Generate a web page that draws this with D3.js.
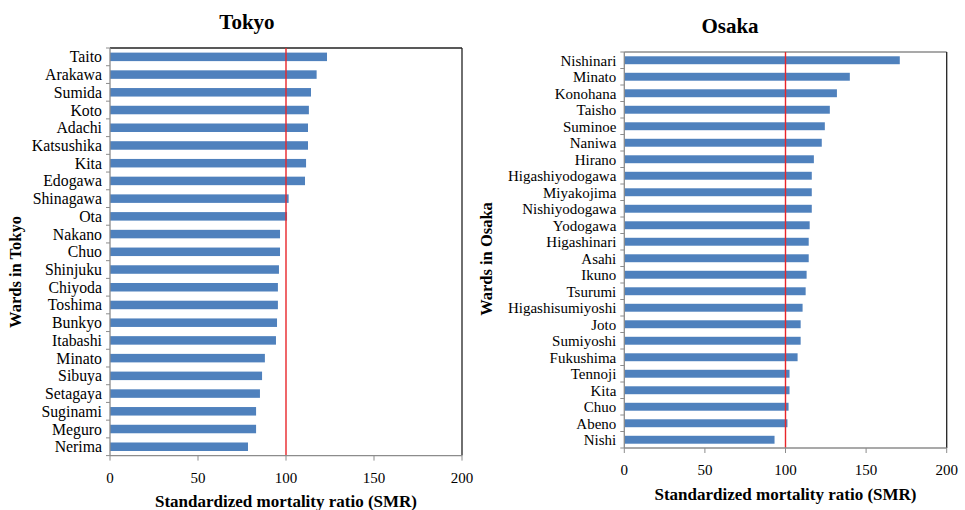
<!DOCTYPE html>
<html>
<head>
<meta charset="utf-8">
<script src="https://cdn.jsdelivr.net/npm/d3@7"></script>
<style>
	body { margin: 0; background: #fff; }
	svg text { font-family: "Liberation Serif", "Times New Roman", serif; fill: #000; }
</style>
</head>
<body>
<script>
const tokyoWards = ["Taito", "Arakawa", "Sumida", "Koto", "Adachi", "Katsushika", "Kita", "Edogawa", "Shinagawa", "Ota", "Nakano", "Chuo", "Shinjuku", "Chiyoda", "Toshima", "Bunkyo", "Itabashi", "Minato", "Sibuya", "Setagaya", "Suginami", "Meguro", "Nerima"];
const tokyoSMR = [123.3, 117.4, 114.2, 113, 112.5, 112.5, 111.4, 110.8, 101.5, 100.6, 96.6, 96.6, 96, 95.4, 95.4, 94.9, 94.3, 88, 86.4, 85.2, 83, 83, 78.4];

const osakaWards = ["Nishinari", "Minato", "Konohana", "Taisho", "Suminoe", "Naniwa", "Hirano", "Higashiyodogawa", "Miyakojima", "Nishiyodogawa", "Yodogawa", "Higashinari", "Asahi", "Ikuno", "Tsurumi", "Higashisumiyoshi", "Joto", "Sumiyoshi", "Fukushima", "Tennoji", "Kita", "Chuo", "Abeno", "Nishi"];
const osakaSMR = [170.9, 139.9, 131.9, 127.5, 124.4, 122.5, 117.6, 116.3, 116.3, 116.3, 115, 114.4, 114.4, 113.1, 112.5, 110.6, 109.4, 109.4, 107.5, 102.5, 102.5, 101.9, 101.2, 93.2];

const xTicks = [0, 50, 100, 150, 200];
const refLine = 100;

const svg = d3.select("body").append("svg")
	.attr("width", 965)
	.attr("height", 510);

function panel(o) {
	let x = d3.scaleLinear().domain([0, 200]).range([o.left, o.right]);
	let y = d3.scaleBand().domain(o.wards).range([o.top, o.bottom]).paddingInner(0.52).paddingOuter(0.26);
	let g = svg.append("g");

	g.selectAll("rect.bar")
		.data(o.values)
		.enter().append("rect")
		.attr("class", "bar")
		.attr("x", x(0))
		.attr("y", (d, i) => y(o.wards[i]))
		.attr("width", d => x(d) - x(0))
		.attr("height", y.bandwidth())
		.attr("fill", "#4F81BD");

	// top and right border
	g.append("line")
		.attr("x1", o.left).attr("x2", o.right)
		.attr("y1", o.top).attr("y2", o.top)
		.attr("stroke", o.topColor).attr("stroke-width", 1.3);
	g.append("line")
		.attr("x1", o.right).attr("x2", o.right)
		.attr("y1", o.top).attr("y2", o.bottom)
		.attr("stroke", "#222").attr("stroke-width", 1.3);

	// reference line
	g.append("line")
		.attr("x1", x(refLine)).attr("x2", x(refLine))
		.attr("y1", o.top).attr("y2", o.bottom)
		.attr("stroke", "#e8262a").attr("stroke-width", 1.4);

	// left axis, ticks between categories
	let step = (o.bottom - o.top) / o.wards.length;
	g.append("line")
		.attr("x1", o.left).attr("x2", o.left)
		.attr("y1", o.top).attr("y2", o.bottom)
		.attr("stroke", "#8c8c8c").attr("stroke-width", 1.3);
	g.selectAll("line.ytick")
		.data(d3.range(o.wards.length + 1))
		.enter().append("line")
		.attr("class", "ytick")
		.attr("x1", o.left - 4).attr("x2", o.left)
		.attr("y1", i => o.top + i * step).attr("y2", i => o.top + i * step)
		.attr("stroke", "#8c8c8c");

	g.selectAll("text.ward")
		.data(o.wards)
		.enter().append("text")
		.attr("class", "ward")
		.attr("x", o.left - 8)
		.attr("y", d => y(d) + y.bandwidth() / 2)
		.attr("dy", "0.35em")
		.attr("text-anchor", "end")
		.style("font-size", o.labelSize + "px")
		.text(d => d);

	// bottom axis
	g.append("line")
		.attr("x1", o.left).attr("x2", o.right)
		.attr("y1", o.bottom).attr("y2", o.bottom)
		.attr("stroke", "#8c8c8c").attr("stroke-width", 1.3);
	g.selectAll("line.xtick")
		.data(xTicks)
		.enter().append("line")
		.attr("class", "xtick")
		.attr("x1", d => x(d)).attr("x2", d => x(d))
		.attr("y1", o.bottom).attr("y2", o.bottom + 5)
		.attr("stroke", "#8c8c8c");
	g.selectAll("text.xlab")
		.data(xTicks)
		.enter().append("text")
		.attr("class", "xlab")
		.attr("x", d => x(d))
		.attr("y", o.bottom + 22)
		.attr("dy", "0.35em")
		.attr("text-anchor", "middle")
		.style("font-size", "15px")
		.text(d => d);

	g.append("text")
		.attr("x", (o.left + o.right) / 2)
		.attr("y", o.xTitleY)
		.attr("dy", "0.35em")
		.attr("text-anchor", "middle")
		.style("font-size", "17px")
		.style("font-weight", "bold")
		.text("Standardized mortality ratio (SMR)");

	g.append("text")
		.attr("x", o.titleX)
		.attr("y", o.titleY)
		.attr("dy", "0.35em")
		.attr("text-anchor", "middle")
		.style("font-size", "21px")
		.style("font-weight", "bold")
		.text(o.title);

	g.append("text")
		.attr("transform", `translate(${o.yTitleX}, ${o.yTitleY}) rotate(-90)`)
		.attr("dy", "0.35em")
		.attr("text-anchor", "middle")
		.style("font-size", "16.5px")
		.style("font-weight", "bold")
		.text(o.yTitle);
}

panel({
	wards: tokyoWards, values: tokyoSMR,
	left: 110, right: 462, top: 48, bottom: 455.6,
	topColor: "#222", labelSize: 15.8,
	title: "Tokyo", titleX: 247, titleY: 22,
	xTitleY: 501,
	yTitle: "Wards in Tokyo", yTitleX: 15, yTitleY: 272
});

panel({
	wards: osakaWards, values: osakaSMR,
	left: 624.3, right: 946.7, top: 52, bottom: 448,
	topColor: "#8c8c8c", labelSize: 15,
	title: "Osaka", titleX: 730, titleY: 26,
	xTitleY: 494,
	yTitle: "Wards in Osaka", yTitleX: 486, yTitleY: 259
});
</script>
</body>
</html>
